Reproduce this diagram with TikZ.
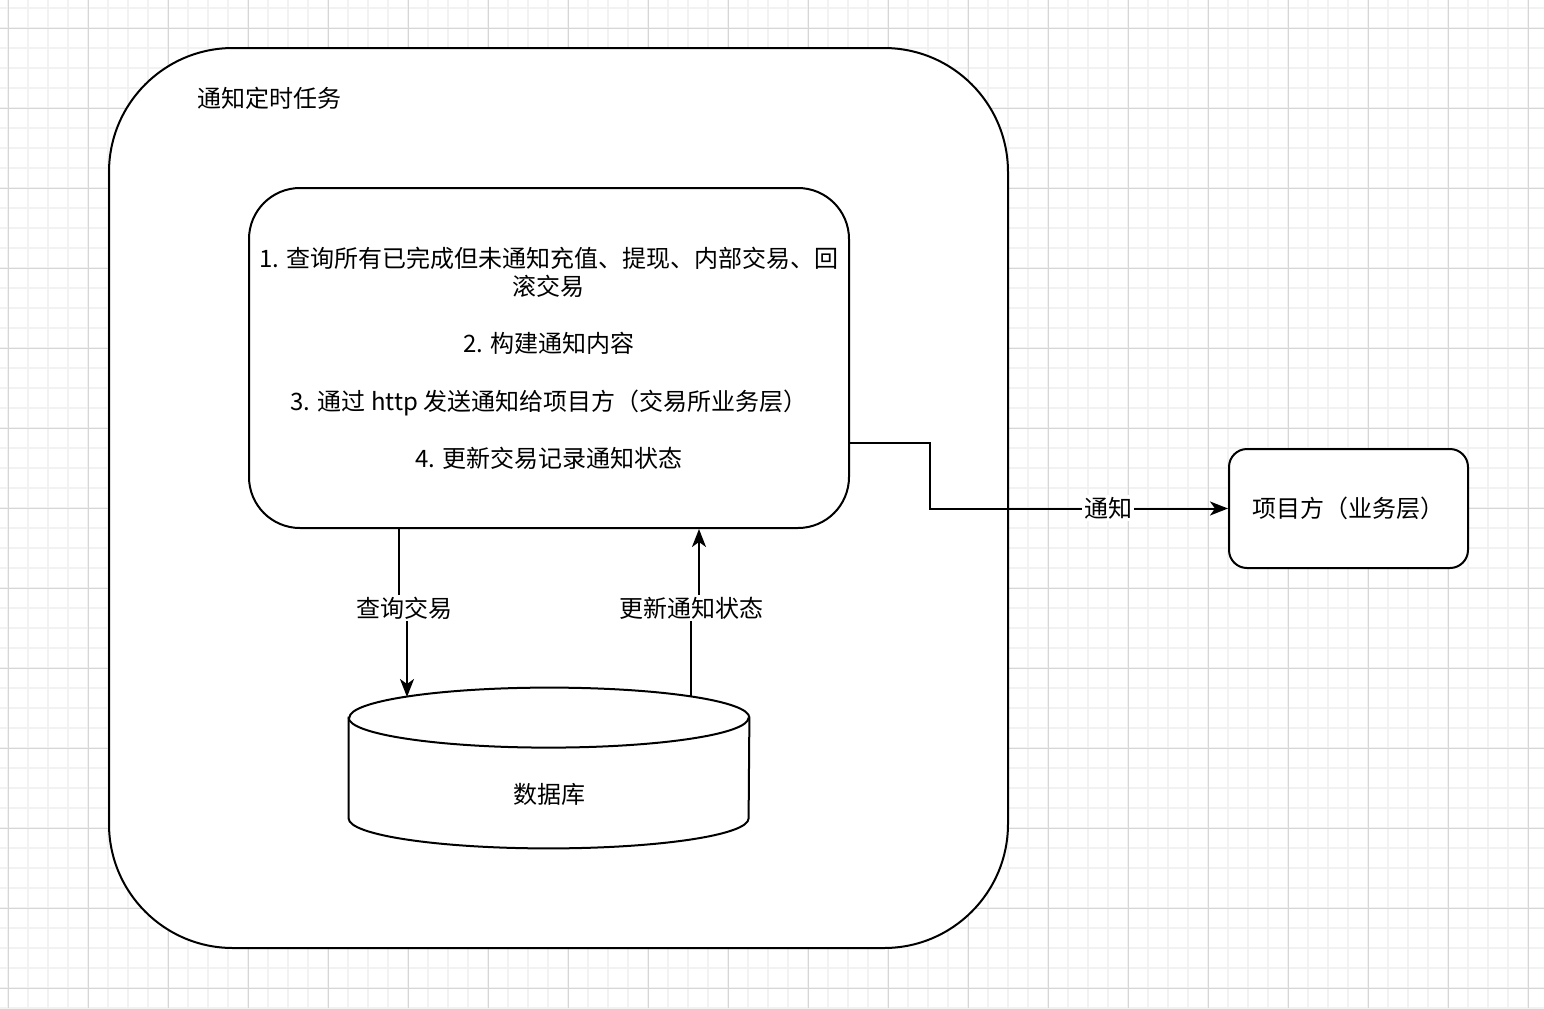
\documentclass[tikz,border=0pt]{standalone}
\usepackage{fontspec}
\setmainfont{Noto Sans CJK SC}
\usepackage{tikz}
\usetikzlibrary{arrows.meta,
calc}
\tikzset{>={Stealth[length=9pt,width=7pt,inset=2.5pt]}}
\definecolor{gridminor}{HTML}{F2F2F2}
\definecolor{gridmajor}{HTML}{D6D6D6}
\tikzset{
  box/.style={draw, fill=white, line width=1pt, rounded corners=#1, inner sep=0pt},
  lbl/.style={fill=white, inner sep=1pt},
  link/.style={line width=1pt, ->}
}

\begin{document}
\begin{tikzpicture}[x=0.5pt, y=-0.5pt, font=\fontsize{12}{14.3}\selectfont]
            \useasboundingbox (0,0) rectangle (1544,1008);
            \fill[white] (0,0) rectangle (1544,1008);
            % grid
            \foreach \g in {8,28,...,1544} \draw[gridminor, line width=0.75pt] (\g,0) -- (\g,1008);
            \foreach \g in {8,28,...,1008} \draw[gridminor, line width=0.75pt] (0,\g) -- (1544,\g);
            \foreach \g in {8,88,...,1544} \draw[gridmajor, line width=0.5pt] (\g,0) -- (\g,1008);
            \foreach \g in {28,108,...,1008} \draw[gridmajor, line width=0.5pt] (0,\g) -- (1544,\g);

            \node[box=62pt, minimum width=449.5pt, minimum height=450pt] (job) at (558.5,498) {};
            \node[anchor=west] (jobtitle) at (190,98) {通知定时任务};

            \node[box=25.5pt, minimum width=300pt, minimum height=170pt, align=center] (task) at (549,358)
                {1. 查询所有已完成但未通知充值、提现、内部交易、回\\滚交易\\[14.3pt]
                 2. 构建通知内容\\[14.3pt]
                 3. 通过 http 发送通知给项目方（交易所业务层）\\[14.3pt]
                 4. 更新交易记录通知状态};

            % database cylinder
            \node[minimum width=200pt, minimum height=80pt, inner sep=0pt] (db) at (549,768) {};
            \draw[line width=1pt, fill=white] ($(db.north west)+(0,30)$) -- ($(db.south west)+(0,-30)$)
                arc[start angle=180, end angle=360, x radius=100pt, y radius=15pt]
                -- ($(db.north east)+(0,30)$)
                arc[start angle=0, end angle=180, x radius=100pt, y radius=15pt] -- cycle;
            \draw[line width=1pt] ($(db.north west)+(0,30)$)
                arc[start angle=180, end angle=360, x radius=100pt, y radius=15pt];
            \node (dbtext) at (549,794) {数据库};
            \coordinate (dbq) at (407,697);
            \coordinate (dbu) at (691,697);

            \node[box=9pt, minimum width=119.5pt, minimum height=59.5pt] (proj) at (1348.5,508.5) {项目方（业务层）};

            \draw[link] ([xshift=-75pt]task.south) -- ++(0,80) -| (dbq);
            \draw[link] (dbu) -- ++(0,-89) -| ([xshift=75pt]task.south);
            \draw[link] ([yshift=-42.5pt]task.east) -- ++(80,0) |- (proj.west);

            \node[lbl] (qlabel) at (404,608) {查询交易};
            \node[lbl] (ulabel) at (691,608) {更新通知状态};
            \node[lbl] (nlabel) at (1108,508) {通知};
        \end{tikzpicture}
\end{document}
